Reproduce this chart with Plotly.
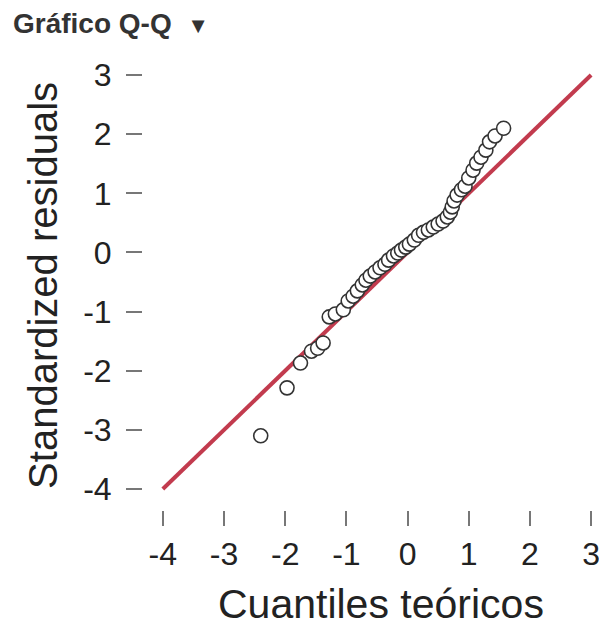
import plotly.graph_objects as go

theoretical = [-2.40, -1.97, -1.75, -1.57, -1.47, -1.38, -1.28, -1.18, -1.05, -0.97,
               -0.89, -0.82, -0.74, -0.68, -0.61, -0.53, -0.45, -0.37, -0.31, -0.23,
               -0.16, -0.10, -0.03, 0.03, 0.11, 0.18, 0.26, 0.34, 0.42, 0.50,
               0.58, 0.65, 0.70, 0.73, 0.76, 0.81, 0.88, 0.94, 1.00, 1.07,
               1.13, 1.20, 1.28, 1.34, 1.43, 1.57]
residuals = [-3.10, -2.29, -1.87, -1.67, -1.62, -1.53, -1.09, -1.04, -0.97, -0.82,
             -0.74, -0.65, -0.55, -0.47, -0.40, -0.33, -0.26, -0.20, -0.13, -0.06,
             -0.01, 0.04, 0.09, 0.14, 0.21, 0.29, 0.34, 0.38, 0.43, 0.48,
             0.53, 0.60, 0.68, 0.77, 0.87, 0.97, 1.06, 1.12, 1.26, 1.39,
             1.51, 1.61, 1.73, 1.87, 1.97, 2.10]
ref_line = [-4, 3]
tick_vals = [-4, -3, -2, -1, 0, 1, 2, 3]
tick_text = ["-4", "-3", "-2", "-1", "0", "1", "2", "3"]

fig = go.Figure()
fig.add_trace(go.Scatter(x=ref_line, y=ref_line, mode="lines",
                         line=dict(color="#c23b4e", width=4), hoverinfo="skip"))
fig.add_trace(go.Scatter(x=theoretical, y=residuals, mode="markers",
                         marker=dict(symbol="circle", size=14, color="white",
                                     line=dict(color="#333333", width=1.6))))

font = "Liberation Sans, Arial, sans-serif"
fig.update_layout(
    width=599, height=624,
    margin=dict(l=135, r=7, t=52, b=122),
    paper_bgcolor="white", plot_bgcolor="white",
    showlegend=False,
    font=dict(family=font, color="#222222"),
    xaxis=dict(range=[-4.324, 3.08], tickvals=tick_vals, ticktext=tick_text,
               ticks="outside", ticklen=15, tickwidth=1.5, tickcolor="#777777",
               showgrid=False, zeroline=False, showline=False,
               tickfont=dict(size=32, family=font, color="#222222"),
               ticklabelstandoff=1),
    yaxis=dict(range=[-4.355, 3.254], tickvals=tick_vals, ticktext=tick_text,
               ticks="outside", ticklen=16, tickwidth=1.5, tickcolor="#777777",
               showgrid=False, zeroline=False, showline=False,
               tickfont=dict(size=32, family=font, color="#222222"),
               ticklabelstandoff=8),
    annotations=[
        dict(text="<b>Gráfico Q-Q</b>  <span style='font-size:22px'>▼</span>",
             xref="paper", yref="paper", x=-133 / 457, y=1 + 37 / 450,
             xanchor="left", yanchor="middle", showarrow=False,
             font=dict(size=28, family=font, color="#333333")),
        dict(text="Cuantiles teóricos", xref="paper", yref="paper",
             x=(383 - 143) / 457, y=-(604 - 510) / 450,
             xanchor="center", yanchor="middle", showarrow=False,
             font=dict(size=41, family=font, color="#222222")),
        dict(text="Standardized residuals", xref="paper", yref="paper",
             x=-(143 - 42) / 457, y=(510 - 285) / 450, textangle=-90,
             xanchor="center", yanchor="middle", showarrow=False,
             font=dict(size=40, family=font, color="#222222")),
    ],
)

fig.write_html("out.html")
